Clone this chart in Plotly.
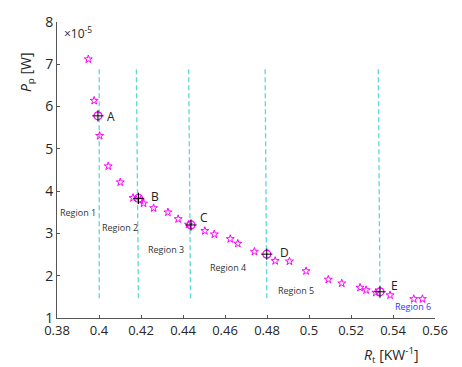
import plotly.graph_objects as go

# Data (x: R_t [K/W], y: P_p [W] in units of 1e-5)
rt = [0.3949, 0.3977, 0.4003, 0.4044, 0.4101, 0.4162, 0.4197, 0.4212, 0.4260,
      0.4328, 0.4377, 0.4426, 0.4504, 0.4549, 0.4625, 0.4661, 0.4740, 0.4839,
      0.4907, 0.4986, 0.5092, 0.5156, 0.5243, 0.5272, 0.5318, 0.5386, 0.5499, 0.5540]
pp = [7.12, 6.14, 5.31, 4.59, 4.21, 3.84, 3.78, 3.71, 3.60,
      3.50, 3.34, 3.21, 3.06, 2.98, 2.87, 2.76, 2.57, 2.35,
      2.34, 2.11, 1.91, 1.82, 1.72, 1.66, 1.60, 1.54, 1.45, 1.45]

key_names = ["A", "B", "C", "D", "E"]
key_rt = [0.3995, 0.4188, 0.4438, 0.4799, 0.5338]
key_pp = [5.78, 3.83, 3.20, 2.51, 1.62]
key_label_rt = [0.4059, 0.4268, 0.4501, 0.4884, 0.5409]
key_label_pp = [5.76, 3.88, 3.38, 2.56, 1.76]

boundary_top_rt = [0.4001, 0.4178, 0.4427, 0.4791, 0.5330]
boundary_bot_rt = [0.4001, 0.4188, 0.4436, 0.4799, 0.5338]
boundary_top_pp = 6.88
boundary_bot_pp = 1.40

region_names = ["Region 1", "Region 2", "Region 3", "Region 4", "Region 5", "Region 6"]
region_rt = [0.3901, 0.4101, 0.4320, 0.4615, 0.4939, 0.5495]
region_pp = [3.50, 3.15, 2.63, 2.20, 1.66, 1.28]
region_colors = ["#333333"] * 5 + ["#3333ff"]

xticks = [0.38, 0.40, 0.42, 0.44, 0.46, 0.48, 0.50, 0.52, 0.54, 0.56]
xtick_text = ["0.38", "0.4", "0.42", "0.44", "0.46", "0.48", "0.5", "0.52", "0.54", "0.56"]
yticks = [1, 2, 3, 4, 5, 6, 7, 8]

FONT = "Open Sans"
fig = go.Figure()

for xt, xb in zip(boundary_top_rt, boundary_bot_rt):
    fig.add_trace(go.Scatter(x=[xt, xb], y=[boundary_top_pp, boundary_bot_pp], mode="lines",
                             line=dict(color="#5ad8d8", width=1.3, dash="5px,3px"),
                             showlegend=False, hoverinfo="skip"))

fig.add_trace(go.Scatter(x=rt, y=pp, mode="markers",
                         marker=dict(symbol="star-open", size=6, color="#ff00ff",
                                     line=dict(width=1, color="#ff00ff")),
                         showlegend=False))
fig.add_trace(go.Scatter(x=key_rt, y=key_pp, mode="markers",
                         marker=dict(symbol="circle-open", size=8, color="#ff00ff",
                                     line=dict(width=1.2, color="#ff00ff")),
                         showlegend=False))
fig.add_trace(go.Scatter(x=key_rt, y=key_pp, mode="markers",
                         marker=dict(symbol="cross-thin-open", size=8, color="#000000",
                                     line=dict(width=1, color="#000000")),
                         showlegend=False))

annotations = []
for n, x, y in zip(key_names, key_label_rt, key_label_pp):
    annotations.append(dict(x=x, y=y, xref="x", yref="y", text=n, showarrow=False,
                            font=dict(family=FONT, size=12, color="#222222")))
for n, x, y, c in zip(region_names, region_rt, region_pp, region_colors):
    annotations.append(dict(x=x, y=y, xref="x", yref="y", text=n, showarrow=False,
                            font=dict(family=FONT, size=9, color=c)))
annotations.append(dict(x=0.012, y=1.0, xref="paper", yref="paper", xanchor="left", yanchor="top",
                        text="×10<sup>-5</sup>", showarrow=False,
                        font=dict(family=FONT, size=12, color="#262626")))
annotations.append(dict(x=0.885, y=-0.125, xref="paper", yref="paper", xanchor="center", yanchor="middle",
                        text="<i>R</i><sub>t</sub> [KW<sup>-1</sup>]", showarrow=False,
                        font=dict(family=FONT, size=14, color="#262626")))
annotations.append(dict(x=-0.08, y=0.83, xref="paper", yref="paper", xanchor="center", yanchor="middle",
                        text="<i>P</i><sub>p</sub> [W]", showarrow=False, textangle=-90,
                        font=dict(family=FONT, size=14, color="#262626")))

fig.update_layout(
    width=462, height=367, autosize=False,
    margin=dict(l=57, r=27, t=22, b=49),
    paper_bgcolor="white", plot_bgcolor="white",
    annotations=annotations,
    xaxis=dict(range=[0.38, 0.56], tickvals=xticks, ticktext=xtick_text,
               showgrid=False, zeroline=False, showline=True, linecolor="#555555", linewidth=1,
               ticks="inside", ticklen=3, tickcolor="#555555",
               tickfont=dict(family=FONT, size=13, color="#262626")),
    yaxis=dict(range=[1, 8], tickvals=yticks,
               showgrid=False, zeroline=False, showline=True, linecolor="#555555", linewidth=1,
               ticks="inside", ticklen=3, tickcolor="#555555",
               tickfont=dict(family=FONT, size=14, color="#262626")),
)

fig.write_html("out.html")
